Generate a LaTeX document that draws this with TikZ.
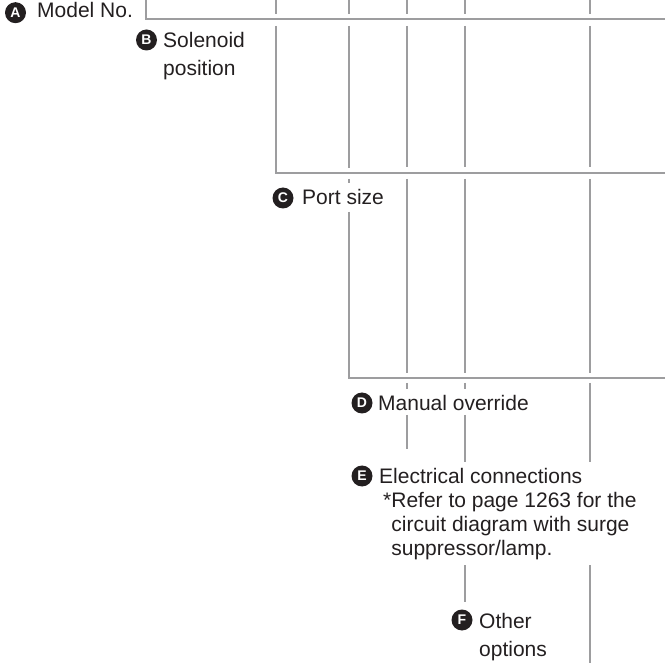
\documentclass[tikz,border=0pt]{standalone}
\usepackage{fontspec}
\setmainfont{Liberation Sans}
\usetikzlibrary{positioning}
\definecolor{rulegray}{HTML}{9D9D9F}
\definecolor{inkblack}{HTML}{231F20}

\begin{document}
\begin{tikzpicture}[
    x=1pt, y=-1pt,
    rule/.style={draw=rulegray, line width=2.3pt},
    badge/.style={
      circle, fill=inkblack, text=white, inner sep=0pt,
      minimum size=21pt, font=\fontsize{14}{14}\selectfont\bfseries
    },
    lbl/.style={
      anchor=base west, inner sep=0pt, align=left, text=inkblack,
      font=\fontsize{21}{28}\selectfont
    },
    note/.style={lbl, font=\fontsize{21}{24}\selectfont},
  ]
    \useasboundingbox (0,0) rectangle (665,663);

    % --- Brackets ---
    \draw[rule] (146,0)   |- (665,19);
    \draw[rule] (276,26)  |- (665,173);
    \draw[rule] (349,212) |- (665,378);

    % --- Code lines (broken at each bracket and label) ---
    \foreach \x/\ya/\yb in {276/0/14,
        349/0/14, 349/26/168, 349/179/183,
        407/0/14, 407/26/167, 407/179/373, 407/383/389, 407/415/449,
        465/0/14, 465/26/167, 465/179/373, 465/383/389, 465/415/462, 465/565/602,
        590/0/14, 590/26/167, 590/179/373, 590/383/462, 590/565/663}
      \draw[rule] (\x,\ya) -- (\x,\yb);

    % --- Labels (multi-line ones sit on their last baseline) ---
    \node[badge] (bA) at (15.5,12.7) {A};
    \node[lbl]   (tA) at (37,18)     {Model No.};

    \node[badge] (bB) at (146.5,40)  {B};
    \node[lbl]   (tB) at (163,76)    {Solenoid\\position};

    \node[badge] (bC) at (283,198)   {C};
    \node[lbl]   (tC) at (302,205)   {Port size};

    \node[badge] (bD) at (362,403)   {D};
    \node[lbl]   (tD) at (378,410)   {Manual override};

    \node[badge] (bE) at (362,476)   {E};
    \node[lbl]   (tE) at (379,483)   {Electrical connections};
    \node[note]  (nE) at (383,555)   {*Refer to page 1263 for the\\
      \hphantom{*}circuit diagram with surge\\
      \hphantom{*}suppressor/lamp.};

    \node[badge] (bF) at (462,620)   {F};
    \node[lbl]   (tF) at (479,656)   {Other\\options};
  \end{tikzpicture}
\end{document}
